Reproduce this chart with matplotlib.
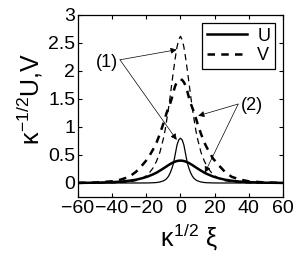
import numpy as np
import matplotlib
matplotlib.use("Agg")
import matplotlib.pyplot as plt

# ─── DATA (symmetric profiles, x >= 0) ───
xi_half = [0, 1, 2, 3, 4, 5, 6, 7, 8, 9, 10, 12, 14, 16, 19, 22, 26, 30, 35, 40, 50, 60]

# (1) narrow solitons
u1_half = [0.80, 0.77, 0.68, 0.52, 0.36, 0.26, 0.18, 0.12, 0.08, 0.055, 0.038,
           0.018, 0.008, 0.004, 0.001, 0.0, 0.0, 0.0, 0.0, 0.0, 0.0, 0.0]
v1_half = [2.62, 2.56, 2.43, 2.24, 2.02, 1.79, 1.55, 1.33, 1.13, 0.94, 0.79,
           0.55, 0.39, 0.27, 0.15, 0.089, 0.042, 0.02, 0.008, 0.003, 0.0, 0.0]

# (2) broad solitons
u2_half = [0.400, 0.398, 0.392, 0.383, 0.370, 0.355, 0.338, 0.319, 0.299, 0.279,
           0.259, 0.221, 0.184, 0.155, 0.117, 0.088, 0.059, 0.040, 0.024, 0.015,
           0.005, 0.002]
v2_half = [1.85, 1.84, 1.80, 1.74, 1.64, 1.52, 1.42, 1.34, 1.26, 1.16, 1.06,
           0.88, 0.72, 0.60, 0.44, 0.33, 0.20, 0.11, 0.06, 0.03, 0.008, 0.002]

x_ticks = [-60, -40, -20, 0, 20, 40, 60]
y_ticks = [0, 0.5, 1, 1.5, 2, 2.5, 3]
y_tick_labels = ["0", "0.5", "1", "1.5", "2", "2.5", "3"]


def full(half, neg=False):
    # mirror the x >= 0 readings onto x < 0
    h = np.array(half, dtype=float)
    if neg:
        return np.concatenate([-h[:0:-1], h])
    return np.concatenate([h[:0:-1], h])


xi = full(xi_half, neg=True)
u1, v1 = full(u1_half), full(v1_half)
u2, v2 = full(u2_half), full(v2_half)

plt.rcParams['font.family'] = ['Liberation Sans', 'DejaVu Sans']
plt.rcParams['mathtext.fontset'] = 'custom'
plt.rcParams['mathtext.rm'] = 'Liberation Sans'
plt.rcParams['mathtext.it'] = 'Liberation Sans'

fig = plt.figure(figsize=(3.02, 2.63), dpi=100)
ax = fig.add_axes([0.258, 0.251, 0.679, 0.692])

ax.plot(xi, u1, color="k", lw=0.9)
ax.plot(xi, v1, color="k", lw=0.9, linestyle=(0, (5, 3.5)))
lu, = ax.plot(xi, u2, color="k", lw=1.8, label="U")
lv, = ax.plot(xi, v2, color="k", lw=1.8, linestyle=(0, (3, 2.5)), label="V")

ax.set_xlim(-60, 60)
ax.set_ylim(-0.25, 3)
ax.set_xticks(x_ticks)
ax.set_xticklabels([f"\u2212{abs(t)}" if t < 0 else str(t) for t in x_ticks])
ax.set_yticks(y_ticks)
ax.set_yticklabels(y_tick_labels)
ax.tick_params(direction="in", top=True, right=True, labelsize=14,
               length=3, width=0.8, pad=2)
for s in ax.spines.values():
    s.set_linewidth(0.9)

ax.set_xlabel(r"$\kappa^{1/2}\ \xi$", fontsize=18)
ax.set_ylabel(r"$\kappa^{-1/2}$U,V", fontsize=18)
ax.xaxis.set_label_coords(0.54, -0.13)
ax.yaxis.set_label_coords(-0.16, 0.54)

leg = ax.legend(handles=[lu, lv], loc="upper right", fontsize=13,
                fancybox=False, edgecolor="k", framealpha=1,
                handlelength=2.2, borderpad=0.25, labelspacing=0.15,
                borderaxespad=0.45, handletextpad=0.6)
leg.get_frame().set_linewidth(0.9)

# ─── annotations ───
arrow = dict(arrowstyle="-|>", color="k", lw=0.5, mutation_scale=9,
             shrinkA=0, shrinkB=0)
ax.text(-43, 2.15, "(1)", fontsize=13, ha="center", va="center")
ax.annotate("", xy=(-2.2, 2.38), xytext=(-35.4, 2.2), arrowprops=arrow)
ax.annotate("", xy=(-2.2, 0.77), xytext=(-35.4, 2.2), arrowprops=arrow)

ax.text(42, 1.38, "(2)", fontsize=13, ha="center", va="center")
ax.annotate("", xy=(10.4, 1.2), xytext=(33.8, 1.41), arrowprops=arrow)
ax.annotate("", xy=(14.3, 0.185), xytext=(33.8, 1.41), arrowprops=arrow)

fig.savefig("out.png", dpi=100)
